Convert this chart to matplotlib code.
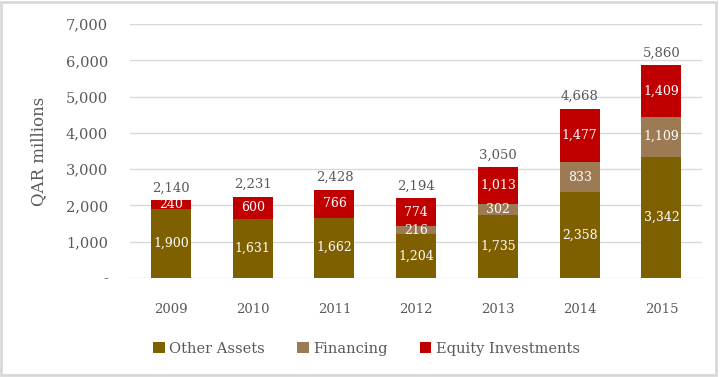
import matplotlib.pyplot as plt
from matplotlib.patches import Rectangle
import numpy as np

years = ["2009", "2010", "2011", "2012", "2013", "2014", "2015"]
other_assets = [1900, 1631, 1662, 1204, 1735, 2358, 3342]
financing = [0, 0, 0, 216, 302, 833, 1109]
equity = [240, 600, 766, 774, 1013, 1477, 1409]
totals = [2140, 2231, 2428, 2194, 3050, 4668, 5860]

c_other = "#7F6000"
c_fin = "#9C7A54"
c_eq = "#C00000"
txt = "#595959"

plt.rcParams['font.family'] = ['DejaVu Serif']

fig = plt.figure(figsize=(7.27, 3.77), dpi=100)
ax = fig.add_axes([0.179, 0.263, 0.787, 0.673])

x = np.arange(len(years))
w = 0.49
ax.bar(x, other_assets, w, color=c_other, label="Other Assets", zorder=3)
ax.bar(x, financing, w, bottom=other_assets, color=c_fin, label="Financing", zorder=3)
bottom3 = [a + f for a, f in zip(other_assets, financing)]
ax.bar(x, equity, w, bottom=bottom3, color=c_eq, label="Equity Investments", zorder=3)

# labels inside segments + totals on top
for i in range(len(years)):
    ax.text(x[i], other_assets[i] / 2, f"{other_assets[i]:,}", ha='center', va='center',
            color='white', fontsize=9, zorder=4)
    if financing[i] > 0:
        ax.text(x[i], other_assets[i] + financing[i] / 2, f"{financing[i]:,}", ha='center',
                va='center', color='white', fontsize=9, zorder=4)
    ax.text(x[i], bottom3[i] + equity[i] / 2, f"{equity[i]:,}", ha='center', va='center',
            color='white', fontsize=9, zorder=4)
    ax.text(x[i], totals[i] + 160, f"{totals[i]:,}", ha='center', va='bottom',
            color=txt, fontsize=9.5, zorder=4)

ax.set_xlim(-0.5, len(years) - 0.5)
ax.set_ylim(0, 7000)
ax.set_yticks(range(0, 7001, 1000))
ax.set_yticklabels(["-"] + [f"{v:,}" for v in range(1000, 7001, 1000)])
ax.set_xticks(x)
ax.set_xticklabels(years)
ax.tick_params(axis='both', length=0, colors=txt)
ax.tick_params(axis='y', pad=16, labelsize=10.5)
ax.tick_params(axis='x', pad=18, labelsize=9.5)
ax.grid(axis='y', color='#D9D9D9', linewidth=1, zorder=0)
for s in ax.spines.values():
    s.set_visible(False)
ax.set_ylabel("QAR millions", color=txt, fontsize=12)
ax.yaxis.set_label_coords(-0.145, 0.5)

ax.legend(loc='upper center', bbox_to_anchor=(0.413, -0.2), ncol=3, frameon=False,
          fontsize=10.5, labelcolor=txt, handlelength=0.8, handleheight=0.8,
          handletextpad=0.3, columnspacing=2.2)

fig.patches.append(Rectangle((0.002, 0.004), 0.983, 0.99, transform=fig.transFigure,
                             fill=False, edgecolor='#D9D9D9', linewidth=2))

fig.savefig("out.png", dpi=100)
